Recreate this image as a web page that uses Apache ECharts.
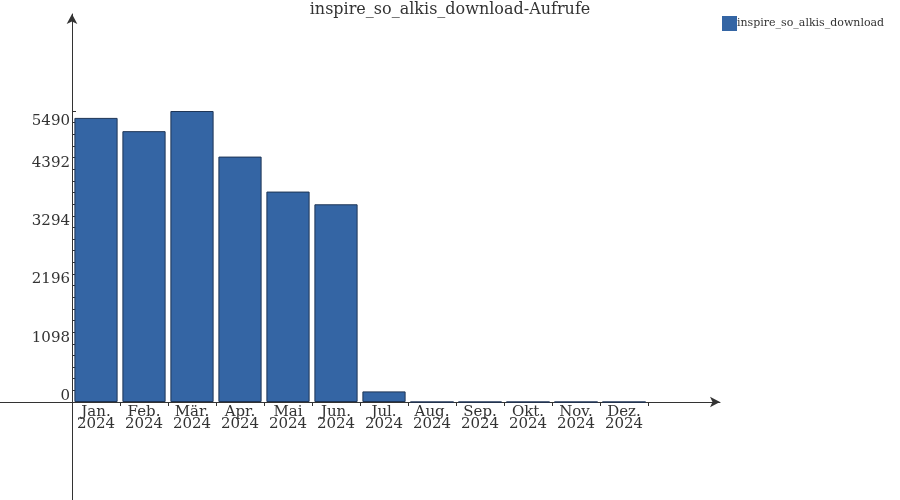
<!DOCTYPE html>
<html>
<head>
<meta charset="utf-8">
<script src="https://cdn.jsdelivr.net/npm/echarts@6/dist/echarts.min.js"></script>
<style>html,body{margin:0;padding:0;background:#fff}#c{width:900px;height:500px}</style>
</head>
<body>
<div id="c"></div>
<script>
const titleText = 'inspire_so_alkis_download-Aufrufe';
const seriesName = 'inspire_so_alkis_download';
const categories = ['Jan.\n2024','Feb.\n2024','Mär.\n2024','Apr.\n2024','Mai\n2024','Jun.\n2024','Jul.\n2024','Aug.\n2024','Sep.\n2024','Okt.\n2024','Nov.\n2024','Dez.\n2024'];
const values = [5360, 5110, 5490, 4630, 3970, 3730, 200, 0, 0, 0, 0, 0];
const yTicks = [0, 1098, 2196, 3294, 4392, 5490];

const FONT = 'DejaVu Serif';
const TXT = '#333';
const LINE = '#333';
const chart = echarts.init(document.getElementById('c'), null, {renderer:'canvas'});
const yMax = yTicks[yTicks.length-1];
chart.setOption({
  animation: false,
  backgroundColor: '#fff',
  title: {text: titleText, left: 'center', top: -3,
    textStyle: {fontFamily: FONT, fontSize: 16, fontWeight: 'normal', color: TXT}},
  legend: {data: [seriesName], left: 722, top: 16, padding: 0, itemWidth: 15, itemHeight: 15,
    icon: 'rect', itemStyle: {borderWidth: 0},
    textStyle: {fontFamily: FONT, fontSize: 11, color: TXT, padding: [0,0,0,-5]}},
  grid: [
    {left: 72, right: 252, top: 111, bottom: 98},
    {left: 0, right: 180, top: 15, bottom: 98},
    {left: 72, right: 700, top: 14, bottom: 0}
  ],
  xAxis: [
    {type: 'category', gridIndex: 0, data: categories,
      axisLine: {show: false},
      axisTick: {show: true, alignWithLabel: false, length: 4, lineStyle: {color: LINE}},
      axisLabel: {fontFamily: FONT, fontSize: 15, color: TXT, lineHeight: 12, margin: 4, interval: 0},
      splitLine: {show: false}},
    {type: 'value', gridIndex: 1, min: 0, max: 1,
      axisLine: {show: true, symbol: ['none','arrow'], symbolSize: [8,10], lineStyle: {color: LINE, width: 1}},
      axisTick: {show: false}, axisLabel: {show: false}, splitLine: {show: false}},
    {type: 'value', gridIndex: 2, show: false}
  ],
  yAxis: [
    {type: 'value', gridIndex: 0, min: 0, max: yMax, interval: yTicks[1],
      axisLine: {show: false},
      axisTick: {show: true, inside: true, length: 4, lineStyle: {color: LINE}},
      minorTick: {show: true, splitNumber: 5, length: 3, lineStyle: {color: LINE}},
      axisLabel: {fontFamily: FONT, fontSize: 15, color: TXT, margin: 2,
        formatter: function(v){ return v === yMax ? '{t|' + v + '}' : '{b|' + v + '}'; },
        rich: {
          b: {fontFamily: FONT, fontSize: 15, color: TXT, padding: [0,0,12,0]},
          t: {fontFamily: FONT, fontSize: 15, color: TXT, padding: [20,0,0,0]}
        }},
      splitLine: {show: false}},
    {type: 'value', gridIndex: 1, show: false},
    {type: 'value', gridIndex: 2, min: 0, max: 1,
      axisLine: {show: true, symbol: ['none','arrow'], symbolSize: [8,10], lineStyle: {color: LINE, width: 1}},
      axisTick: {show: false}, axisLabel: {show: false}, splitLine: {show: false}}
  ],
  series: [{
    name: seriesName, type: 'bar', xAxisIndex: 0, yAxisIndex: 0, data: values,
    barCategoryGap: '10%',
    itemStyle: {color: '#3465a4', borderColor: '#1e3556', borderWidth: 1}
  }]
});
</script>
</body>
</html>
